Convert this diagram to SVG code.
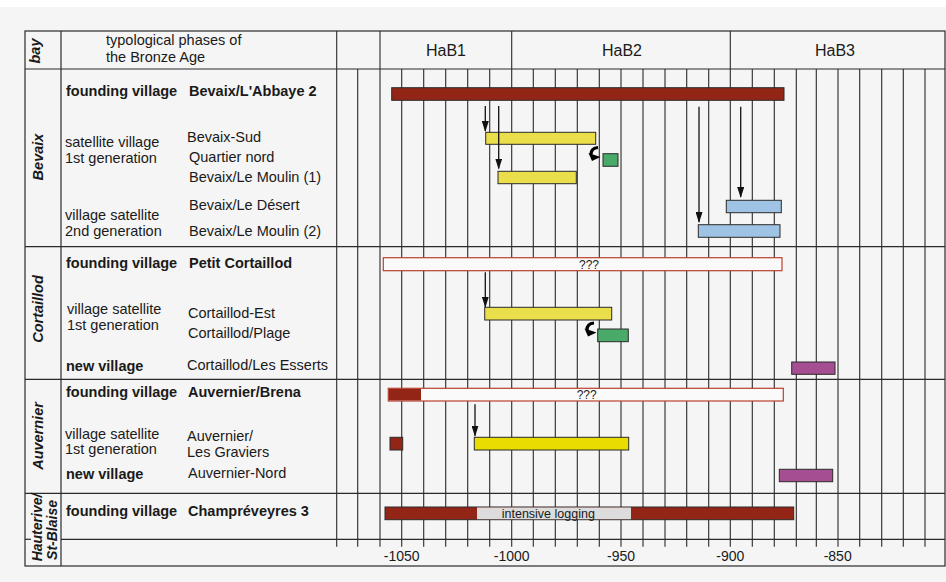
<svg xmlns="http://www.w3.org/2000/svg" xmlns:xlink="http://www.w3.org/1999/xlink" width="946" height="582" viewBox="0 0 946 582">
<style>
text{font-family:"Liberation Sans",Arial,sans-serif;fill:#1a1a1a}
.lb{font-size:14.5px}
.b{font-weight:bold}
.bay{font-size:14.5px;font-weight:bold;font-style:italic;text-anchor:middle}
.ph{font-size:16px;text-anchor:middle}
.ax{font-size:14px;text-anchor:middle}
.sm{font-size:12px;text-anchor:middle}
.frame{stroke:#2a2a2a;stroke-width:1.2;fill:none}
.grid{stroke:#2a2a2a;stroke-width:1.1}
.bar{stroke:#2b2b2b;stroke-width:1}
.red{fill:#922516}
.yel{fill:#eade4a}
.yel2{fill:#e8dc00}
.grn{fill:#4aaa6a}
.blu{fill:#9ec3e4}
.pur{fill:#a64e92}
.open{fill:#fafafa;stroke:#b9402e;stroke-width:1.2}
.arr{stroke:#111;stroke-width:1.3;fill:none;marker-end:url(#ah)}
</style>
<defs>
<marker id="ah" markerUnits="userSpaceOnUse" markerWidth="7" markerHeight="11" refX="3.5" refY="10" orient="0" viewBox="0 0 7 11">
<path d="M0,0 L7,0 L3.5,11 z" fill="#111"/>
</marker>
<g id="curl">
<path d="M9.5,1 Q2.5,1.5 2.5,8" stroke="#000" stroke-width="3.2" fill="none"/>
<path d="M0,6.5 L12,10.5 L3.5,14.5 z" fill="#000"/>
</g>
</defs>
<rect x="0" y="0" width="946" height="582" fill="#ffffff"/>
<rect x="0" y="7" width="946" height="575" fill="#f5f5f5"/>

<g id="grid">
<g class="grid">
<line x1="336.7" y1="31" x2="336.7" y2="546.7"/>
<line x1="380" y1="31" x2="380" y2="69"/>
<line x1="511.7" y1="31" x2="511.7" y2="69"/>
<line x1="730.3" y1="31" x2="730.3" y2="69"/>
<line x1="357.7" y1="69" x2="357.7" y2="546.7"/>
<line x1="380" y1="69" x2="380" y2="546.7"/>
<line x1="401.7" y1="69" x2="401.7" y2="546.7"/>
<line x1="423.7" y1="69" x2="423.7" y2="546.7"/>
<line x1="445.7" y1="69" x2="445.7" y2="546.7"/>
<line x1="467.7" y1="69" x2="467.7" y2="546.7"/>
<line x1="489.7" y1="69" x2="489.7" y2="546.7"/>
<line x1="511.7" y1="69" x2="511.7" y2="546.7"/>
<line x1="533.3" y1="69" x2="533.3" y2="546.7"/>
<line x1="555.3" y1="69" x2="555.3" y2="546.7"/>
<line x1="577.3" y1="69" x2="577.3" y2="546.7"/>
<line x1="599.3" y1="69" x2="599.3" y2="546.7"/>
<line x1="621" y1="69" x2="621" y2="546.7"/>
<line x1="643" y1="69" x2="643" y2="546.7"/>
<line x1="665" y1="69" x2="665" y2="546.7"/>
<line x1="686.7" y1="69" x2="686.7" y2="546.7"/>
<line x1="708.7" y1="69" x2="708.7" y2="546.7"/>
<line x1="730.3" y1="69" x2="730.3" y2="546.7"/>
<line x1="752.3" y1="69" x2="752.3" y2="546.7"/>
<line x1="774.3" y1="69" x2="774.3" y2="546.7"/>
<line x1="796.3" y1="69" x2="796.3" y2="546.7"/>
<line x1="816.3" y1="69" x2="816.3" y2="546.7"/>
<line x1="838" y1="69" x2="838" y2="546.7"/>
<line x1="859.7" y1="69" x2="859.7" y2="546.7"/>
<line x1="881.7" y1="69" x2="881.7" y2="546.7"/>
<line x1="903.3" y1="69" x2="903.3" y2="546.7"/>
<line x1="925" y1="69" x2="925" y2="546.7"/>
</g>
<g class="frame">
<rect x="25" y="31" width="920" height="535"/>
<line x1="61" y1="31" x2="61" y2="566"/>
<line x1="25" y1="69" x2="945" y2="69"/>
<line x1="25" y1="246.7" x2="945" y2="246.7"/>
<line x1="25" y1="379.3" x2="945" y2="379.3"/>
<line x1="25" y1="493.3" x2="945" y2="493.3"/>
<line x1="25" y1="539.3" x2="31" y2="539.3"/>
<line x1="61" y1="539.3" x2="945" y2="539.3"/>
</g>
</g>

<g id="header">
<text class="bay" transform="translate(40,51) rotate(-90)">bay</text>
<text class="lb" x="106" y="45">typological phases of</text>
<text class="lb" x="106" y="61.5">the Bronze Age</text>
<text class="ph" x="446" y="56">HaB1</text>
<text class="ph" x="622" y="56">HaB2</text>
<text class="ph" x="835" y="56">HaB3</text>
</g>

<g id="bevaix">
<text class="bay" transform="translate(43,157) rotate(-90)">Bevaix</text>
<text class="lb b" x="66" y="96">founding village</text>
<text class="lb b" x="189" y="96">Bevaix/L'Abbaye 2</text>
<text class="lb" x="65" y="146.5">satellite village</text>
<text class="lb" x="65" y="162.5">1st generation</text>
<text class="lb" x="187" y="141.5">Bevaix-Sud</text>
<text class="lb" x="189" y="161.5">Quartier nord</text>
<text class="lb" x="189" y="181.5">Bevaix/Le Moulin (1)</text>
<text class="lb" x="65" y="219.5">village satellite</text>
<text class="lb" x="65" y="235.5">2nd generation</text>
<text class="lb" x="189" y="209.5">Bevaix/Le Désert</text>
<text class="lb" x="189" y="235.5">Bevaix/Le Moulin (2)</text>
<rect id="bar-abbaye" class="bar red" x="391.7" y="87.7" width="392.3" height="12.6"/>
<rect id="bar-bevaix-sud" class="bar yel" x="485.7" y="132.3" width="110" height="12"/>
<rect id="bar-quartier-nord" class="bar grn" x="603" y="153.7" width="15" height="12.6"/>
<rect id="bar-moulin1" class="bar yel" x="498" y="171.3" width="78.3" height="12.4"/>
<rect id="bar-desert" class="bar blu" x="726.3" y="200.3" width="55" height="12.4"/>
<rect id="bar-moulin2" class="bar blu" x="698.3" y="224.7" width="81.7" height="12.6"/>
</g>

<g id="cortaillod">
<text class="bay" transform="translate(43,309) rotate(-90)">Cortaillod</text>
<text class="lb b" x="66" y="267.5">founding village</text>
<text class="lb b" x="189" y="267.5">Petit Cortaillod</text>
<text class="lb" x="67" y="313.5">village satellite</text>
<text class="lb" x="67" y="329.5">1st generation</text>
<text class="lb" x="188" y="317.5">Cortaillod-Est</text>
<text class="lb" x="188" y="337.5">Cortaillod/Plage</text>
<text class="lb b" x="66" y="370.5">new village</text>
<text class="lb" x="187" y="369.5">Cortaillod/Les Esserts</text>
<rect id="bar-petit-cortaillod" class="open" x="383.3" y="257.7" width="398.7" height="13"/>
<text class="sm" x="589" y="268.5">???</text>
<rect id="bar-cortaillod-est" class="bar yel" x="484.7" y="307.3" width="127" height="12.7"/>
<rect id="bar-plage" class="bar grn" x="597.7" y="329" width="30.6" height="12.7"/>
<rect id="bar-esserts" class="bar pur" x="791.7" y="362" width="43.3" height="12.3"/>
</g>

<g id="auvernier">
<text class="bay" transform="translate(43,436) rotate(-90)">Auvernier</text>
<text class="lb b" x="66" y="396.5">founding village</text>
<text class="lb b" x="188" y="396.5">Auvernier/Brena</text>
<text class="lb" x="65" y="438.5">village satellite</text>
<text class="lb" x="65" y="454">1st generation</text>
<text class="lb" x="187" y="441">Auvernier/</text>
<text class="lb" x="187" y="456.5">Les Graviers</text>
<text class="lb b" x="66" y="478.5">new village</text>
<text class="lb" x="188" y="477.5">Auvernier-Nord</text>
<rect id="bar-brena" class="open" x="388.3" y="388.3" width="395" height="12.7"/>
<rect class="red" x="388.9" y="388.9" width="32.1" height="11.5"/>
<text class="sm" x="586.7" y="399">???</text>
<rect id="bar-auvernier-early" class="bar red" x="390" y="437.3" width="12.7" height="12.7"/>
<rect id="bar-graviers" class="bar yel2" x="474.3" y="437.3" width="154.4" height="12.7"/>
<rect id="bar-auvernier-nord" class="bar pur" x="779.3" y="469.3" width="53.4" height="12.4"/>
</g>

<g id="hauterive">
<text class="bay" style="font-size:14px" transform="translate(41.5,527.5) rotate(-90)">Hauterive/</text>
<text class="bay" style="font-size:14px" transform="translate(56.5,530) rotate(-90)">St-Blaise</text>
<text class="lb b" x="66" y="516">founding village</text>
<text class="lb b" x="188" y="516">Champréveyres 3</text>
<rect id="bar-champreveyres" class="bar red" x="385" y="507" width="408.7" height="12.7"/>
<rect fill="#dcdcdc" x="477" y="507.5" width="154" height="11.7"/>
<text class="sm" style="font-size:12.5px" x="548.3" y="517.5">intensive logging</text>
</g>

<g id="axis">
<text class="ax" x="401.7" y="561">-1050</text>
<text class="ax" x="511.7" y="561">-1000</text>
<text class="ax" x="621" y="561">-950</text>
<text class="ax" x="730.3" y="561">-900</text>
<text class="ax" x="837.7" y="561">-850</text>
</g>

<g id="connectors">
<line class="arr" x1="485.3" y1="106" x2="485.3" y2="131"/>
<line class="arr" x1="498.7" y1="106" x2="498.7" y2="168.5"/>
<line class="arr" x1="699" y1="106.7" x2="699" y2="222"/>
<line class="arr" x1="740.7" y1="106.7" x2="740.7" y2="197"/>
<line class="arr" x1="485.3" y1="272.3" x2="485.3" y2="306.7"/>
<line class="arr" x1="475" y1="404.3" x2="475" y2="435.7"/>
<use xlink:href="#curl" x="588.5" y="146.5"/>
<use xlink:href="#curl" x="584.5" y="322"/>
</g>
</svg>
